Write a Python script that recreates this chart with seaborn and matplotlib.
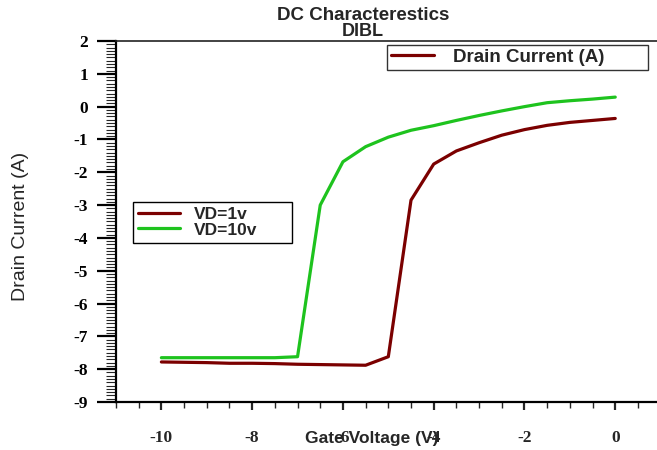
import numpy as np
import pandas as pd
import matplotlib
matplotlib.use("Agg")
import matplotlib.pyplot as plt
from matplotlib.lines import Line2D
from matplotlib.ticker import MultipleLocator
import seaborn as sns

# gate voltage sweep (V)
gate_v = [-10, -9.5, -9, -8.5, -8, -7.5, -7, -6.5, -6, -5.5, -5,
          -4.5, -4, -3.5, -3, -2.5, -2, -1.5, -1, -0.5, 0]

# drain current (log scale readout, as plotted)
id_vd1 = [-7.78, -7.79, -7.80, -7.82, -7.82, -7.83, -7.85, -7.86, -7.87, -7.88, -7.62,
          -2.85, -1.75, -1.35, -1.10, -0.87, -0.70, -0.57, -0.48, -0.42, -0.36]
id_vd10 = [-7.65, -7.65, -7.65, -7.65, -7.65, -7.65, -7.62, -3.00, -1.68, -1.22, -0.93,
           -0.72, -0.58, -0.42, -0.27, -0.13, 0.00, 0.12, 0.18, 0.23, 0.29]

series_names = ["VD=1v", "VD=10v"]
colors = {"VD=1v": "#7b0000", "VD=10v": "#1ec31e"}

df = pd.concat([
    pd.DataFrame({"Vg": gate_v, "Id": id_vd1, "bias": series_names[0]}),
    pd.DataFrame({"Vg": gate_v, "Id": id_vd10, "bias": series_names[1]}),
])

sns.set_style("white")
plt.rcParams["font.family"] = ["Liberation Sans", "DejaVu Sans"]
plt.rcParams["axes.unicode_minus"] = False

fig = plt.figure(figsize=(6.57, 4.5), dpi=100)
ax = fig.add_axes([116 / 657, 48 / 450, 541 / 657, 361 / 450])

sns.lineplot(data=df, x="Vg", y="Id", hue="bias", palette=colors,
             linewidth=2.3, ax=ax, legend=False, sort=False)

ax.set_xlim(-11, 0.92)
ax.set_ylim(-9, 2)
ax.xaxis.set_major_locator(MultipleLocator(2))
ax.xaxis.set_minor_locator(MultipleLocator(0.5))
ax.yaxis.set_major_locator(MultipleLocator(1))
ax.yaxis.set_minor_locator(MultipleLocator(0.1))
ax.set_xticks([-10, -8, -6, -4, -2, 0])

ax.tick_params(axis="y", which="major", direction="out", length=14, width=1.6,
               pad=6, left=True, colors="black")
ax.tick_params(axis="y", which="minor", direction="out", length=7, width=0.8, left=True)
ax.tick_params(axis="x", which="major", direction="out", length=6, width=1.6,
               pad=14, bottom=True)
ax.tick_params(axis="x", which="minor", direction="out", length=4.5, width=1.0, bottom=True)

for lab in ax.get_xticklabels() + ax.get_yticklabels():
    lab.set_fontfamily("Liberation Serif")
    lab.set_fontweight("bold")
    lab.set_fontsize(12.5)

for side in ["left", "bottom"]:
    ax.spines[side].set_linewidth(1.6)
    ax.spines[side].set_color("black")
ax.spines["top"].set_linewidth(1.2)
ax.spines["top"].set_color("#222222")
ax.spines["right"].set_visible(False)

ax.set_xlabel("Gate Voltage (V)", fontsize=12.5, fontweight="semibold")
ax.xaxis.set_label_coords(0.473, -0.10)
ax.xaxis.label.set_va("center")
ax.set_ylabel("Drain Current (A)", fontsize=14)
ax.yaxis.set_label_coords(-0.177, 0.4875)
ax.yaxis.label.set_va("center")

ax.text(0.457, 1.072, "DC Characterestics", transform=ax.transAxes, ha="center",
        va="center", fontsize=13.5, fontweight="semibold")
ax.text(0.457, 1.027, "DIBL", transform=ax.transAxes, ha="center",
        va="center", fontsize=13, fontweight="semibold")

leg1 = ax.legend([Line2D([], [], color=colors["VD=1v"], lw=2.3)], ["Drain Current (A)"],
                 loc="upper left", bbox_to_anchor=(0.501, 0.911, 0.482, 0.078),
                 mode="expand", borderaxespad=0,
                 fancybox=False, edgecolor="#333333", framealpha=1,
                 prop={"size": 13.5, "weight": "semibold"},
                 handlelength=2.3, handletextpad=1.0, borderpad=0.2)
leg1.get_frame().set_linewidth(1.0)
ax.add_artist(leg1)

handles = [Line2D([], [], color=colors[n], lw=2.3) for n in series_names]
leg2 = ax.legend(handles, series_names, loc="upper left",
                 bbox_to_anchor=(0.031, 0.443, 0.294, 0.111), mode="expand",
                 borderaxespad=0, fancybox=False, edgecolor="black", framealpha=1,
                 prop={"size": 12.5, "weight": "semibold"},
                 handlelength=2.4, handletextpad=0.8, borderpad=0.3, labelspacing=0.0)
leg2.get_frame().set_linewidth(1.0)

fig.savefig("out.png", dpi=100)
